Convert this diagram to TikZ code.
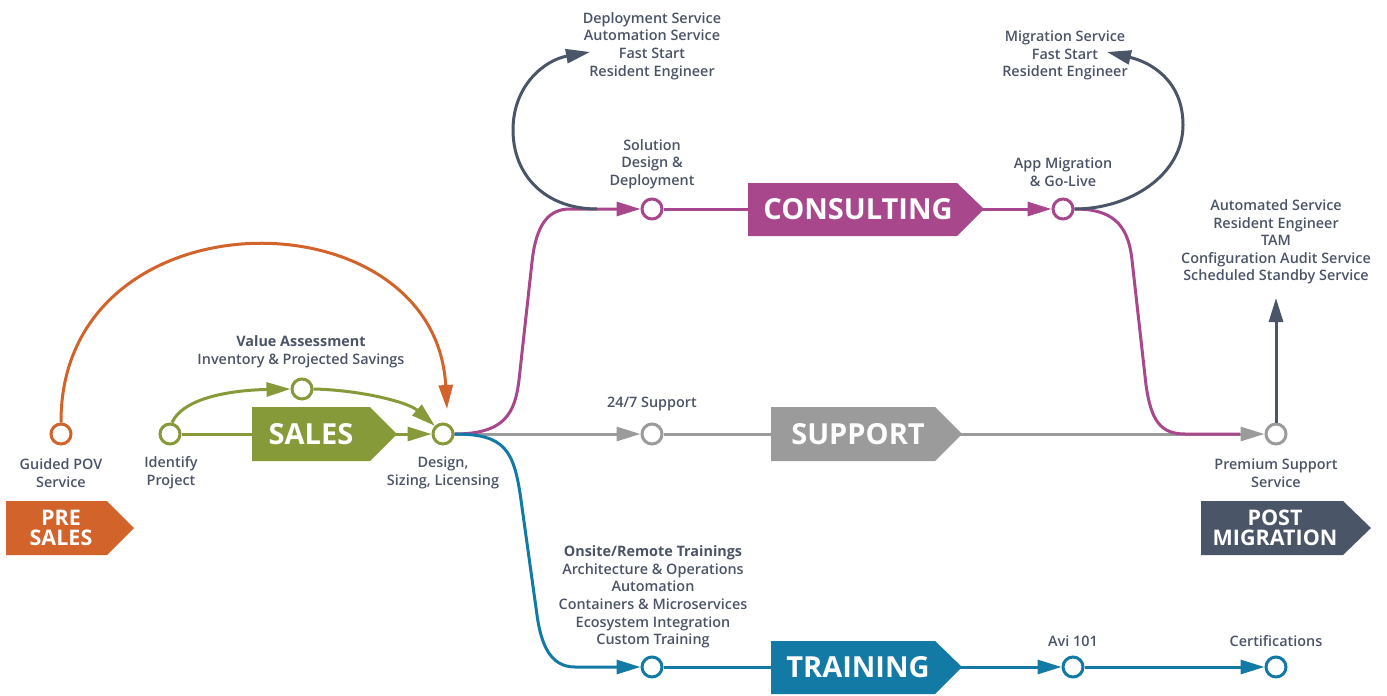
\documentclass[tikz,border=0pt]{standalone}
\usepackage{fontspec}
\setmainfont{Open Sans}
\IfFontExistsTF{Open Sans Semibold}
  {\newfontfamily\semib{Open Sans Semibold}[BoldFont={Open Sans Bold}]}
  {\newfontfamily\semib{Open Sans}[FakeBold=0.5]}
\usetikzlibrary{arrows.meta}
\definecolor{cOrange}{HTML}{D2632B}
\definecolor{cGreen}{HTML}{879A3A}
\definecolor{cPurple}{HTML}{A8478C}
\definecolor{cGray}{HTML}{9B9B9B}
\definecolor{cBlue}{HTML}{137AA6}
\definecolor{cSlate}{HTML}{4A5568}
\definecolor{cText}{HTML}{4B5467}
\tikzset{
  dot/.style={circle, draw=#1, fill=white, line width=3pt, minimum size=20pt, inner sep=0pt},
  conn/.style={draw=#1, line width=3pt},
  arr/.style={-{Triangle[length=24pt,width=14pt]}},
  lbl/.style={text=cText, align=center, inner sep=0pt, font=\semib\fontsize{14.4}{17.6}\selectfont},
  tagtext/.style={text=white, inner sep=0pt, font=\fontsize{29}{30}\selectfont\bfseries},
  smalltag/.style={text=white, inner sep=0pt, align=center, font=\fontsize{21.5}{20}\selectfont\bfseries},
}
\begin{document}
\begin{tikzpicture}[x=1pt,y=-1pt]
\useasboundingbox (0,0) rectangle (1387,696);

% ---------- circles ----------
\node[dot=cOrange] (pov) at (61,434) {};
\node[dot=cGreen] (idp) at (170,434) {};
\node[dot=cGreen] (val) at (302,389) {};
\node[dot=cGreen] (des) at (443,434) {};
\node[dot=cPurple] (sol) at (652,209) {};
\node[dot=cPurple] (app) at (1063,209) {};
\node[dot=cGray] (sup) at (652,434) {};
\node[dot=cGray] (prem) at (1276,434) {};
\node[dot=cBlue] (tr) at (652,667) {};
\node[dot=cBlue] (avi) at (1073,667) {};
\node[dot=cBlue] (cert) at (1276,667) {};

\coordinate (loopA) at (597,209);
\coordinate (depTip) at (590,52);
\coordinate (migTip) at (1107,52);
\coordinate (postTip) at (1276,298);
\coordinate (povTip) at (447,409);
\coordinate (purpEnd) at (1240,434);

% ---------- connectors ----------
% gray support line
\draw[conn=cGray, arr] (des.east) -- (sup.west);
\draw[conn=cGray, arr] (sup.east) -- (prem.west);
% purple
\draw[conn=cPurple, arr] (des.east) .. controls (505,434) and (515,413) .. (519,380) -- (532,262) .. controls (536,225) and (548,209) .. (570,209) -- (sol.west);
\draw[conn=cPurple, arr] (sol.east) -- (app.west);
\draw[conn=cPurple] (app.east) .. controls (1110,209) and (1128,222) .. (1132,260) -- (1146,385) .. controls (1151,420) and (1160,434) .. (1185,434) -- (purpEnd);
% blue
\draw[conn=cBlue, arr] (des.east) .. controls (505,434) and (514,450) .. (521,500) -- (537,615) .. controls (541,644) and (550,667) .. (575,667) -- (tr.west);
\draw[conn=cBlue, arr] (tr.east) -- (avi.west);
\draw[conn=cBlue, arr] (avi.east) -- (cert.west);
% green
\draw[conn=cGreen, arr] (idp.east) -- (des.west);
\draw[conn=cGreen, arr] (idp.north) ++(2,0) .. controls (185,395) and (240,390) .. (val.west);
\draw[conn=cGreen, arr] (val.east) .. controls (360,390) and (408,402) .. (des.north west);
% orange
\draw[conn=cOrange, arr] (pov.north) .. controls (60,190) and (435,190) .. (povTip);
% dark loops
\draw[conn=cSlate, arr] (loopA) .. controls (545,209) and (513,175) .. (513,130) .. controls (513,85) and (545,60) .. (depTip);
\draw[conn=cSlate, arr] (app.east) .. controls (1130,209) and (1183,175) .. (1183,125) .. controls (1183,80) and (1150,62) .. (migTip);
\draw[conn=cSlate, arr] (prem.north) -- (postTip);

% ---------- tags ----------
\fill[cGreen] (252,407) -- (370,407) -- (397,434) -- (370,461) -- (252,461) -- cycle;
\node[tagtext] (salesT) at (311,434) {SALES};
\fill[cPurple] (748,183) -- (957,183) -- (984,209) -- (957,236) -- (748,236) -- cycle;
\node[tagtext] (consT) at (858,209) {CONSULTING};
\fill[cGray] (771,407) -- (935,407) -- (962,434) -- (935,461) -- (771,461) -- cycle;
\node[tagtext] (supT) at (858,434) {SUPPORT};
\fill[cBlue] (771,641) -- (935,641) -- (962,667) -- (935,694) -- (771,694) -- cycle;
\node[tagtext] (trT) at (858,667) {TRAINING};
\fill[cOrange] (6,501) -- (107,501) -- (134,528) -- (107,555) -- (6,555) -- cycle;
\node[smalltag] (preT) at (61,528) {PRE\\SALES};
\fill[cSlate] (1201,501) -- (1343,501) -- (1371,528) -- (1343,555) -- (1201,555) -- cycle;
\node[smalltag] (postT) at (1275,528) {POST\\MIGRATION};

% ---------- labels ----------
\node[lbl] (depL) at (652,46) {Deployment Service\\Automation Service\\Fast Start\\Resident Engineer};
\node[lbl] (solL) at (652,164) {Solution\\Design \&\\Deployment};
\node[lbl] (migL) at (1065,55.5) {Migration Service\\Fast Start\\Resident Engineer};
\node[lbl] (appL) at (1063,172) {App Migration\\\& Go-Live};
\node[lbl] (postL) at (1276,242) {Automated Service\\Resident Engineer\\TAM\\Configuration Audit Service\\Scheduled Standby Service};
\node[lbl] (valL) at (301,352) {\textbf{Value Assessment}\\Inventory \& Projected Savings};
\node[lbl] (supL) at (652,404) {24/7 Support};
\node[lbl] (povL) at (61,473) {Guided POV\\Service};
\node[lbl] (idpL) at (171,473) {Identify\\Project};
\node[lbl] (desL) at (443,473) {Design,\\Sizing, Licensing};
\node[lbl] (premL) at (1276,473) {Premium Support\\Service};
\node[lbl] (trL) at (653,597) {\textbf{Onsite/Remote Trainings}\\Architecture \& Operations\\Automation\\Containers \& Microservices\\Ecosystem Integration\\Custom Training};
\node[lbl] (aviL) at (1073,641) {Avi 101};
\node[lbl] (certL) at (1276,641) {Certifications};
\end{tikzpicture}
\end{document}
